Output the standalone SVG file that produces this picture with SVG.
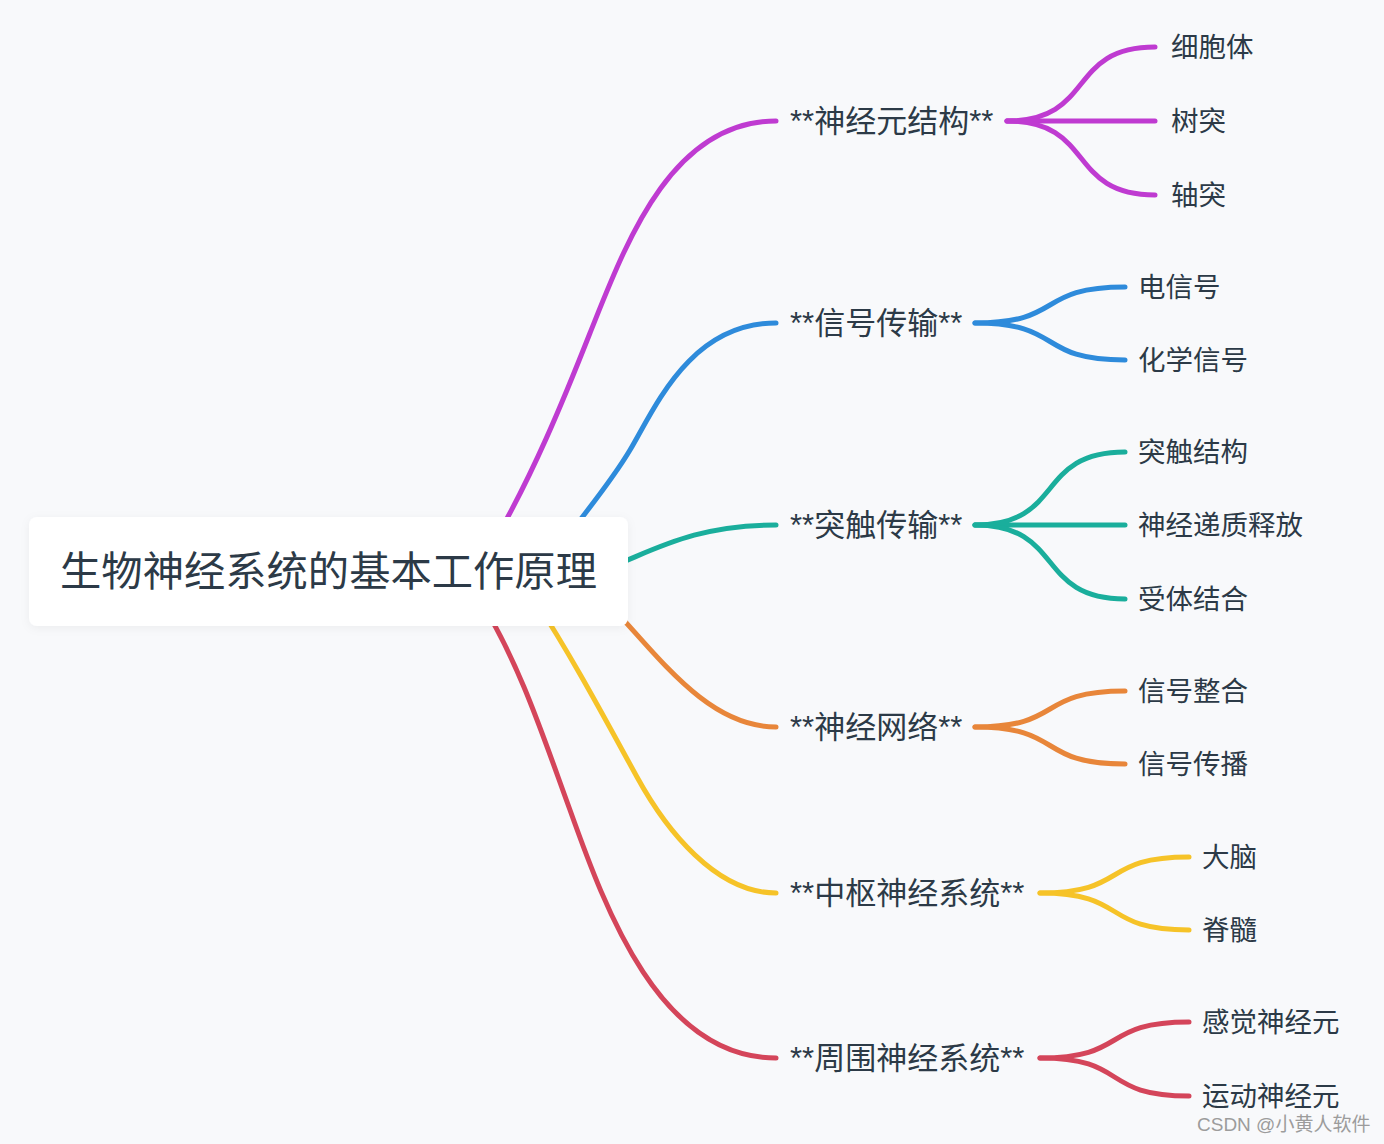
<svg xmlns="http://www.w3.org/2000/svg" width="1384" height="1144" viewBox="0 0 1384 1144">
<defs>
<filter id="sh" x="-10%" y="-30%" width="120%" height="160%">
<feDropShadow dx="0" dy="2" stdDeviation="5" flood-color="#000" flood-opacity="0.05"/>
</filter>
<style>
.ln{fill:none;stroke-width:5;stroke-linecap:round}
.p{stroke:#bf3bd1}.b{stroke:#2e8bdb}.t{stroke:#1aae9c}.o{stroke:#e8863a}.y{stroke:#f6c328}.r{stroke:#d4455a}
text{font-family:"Noto Sans CJK SC","Noto Sans",sans-serif;fill:#2c3a47}
.root{font-size:41.3px}
.br{font-size:31px;font-family:"Liberation Sans","Noto Sans CJK SC",sans-serif}
.ch{font-size:27.5px}
.wm{font-size:19px;fill:#9c9c9c;font-family:"Liberation Sans","Noto Sans CJK SC",sans-serif}
</style>
</defs>
<rect width="1384" height="1144" fill="#f8f9fb"/>
<g id="connectors">
<path class="ln p" d="M495,540 C533,474 562,404 590,333 C625,246 670,121 776,121"/>
<path class="ln b" d="M565,540 C587,510 611,482 630,450 C655,408 690,323 776,323"/>
<path class="ln t" d="M605,569 C650,553 690,525 776,525"/>
<path class="ln o" d="M605,600 C655,651 705,727 776,727"/>
<path class="ln y" d="M535,600 C572,657 604,717 637,777 C666,830 716,893 776,893"/>
<path class="ln r" d="M480,600 C520,664 544,739 570,810 C606,911 660,1058 776,1058"/>
<path class="ln p" d="M1007,121 C1095.8,121 1066.2,47 1155,47"/>
<path class="ln p" d="M1007,121 L1155,121"/>
<path class="ln p" d="M1007,121 C1095.8,121 1066.2,195 1155,195"/>
<path class="ln b" d="M975,323 C1065,323 1035,287 1125,287"/>
<path class="ln b" d="M975,323 C1065,323 1035,360 1125,360"/>
<path class="ln t" d="M975,525 C1065,525 1035,452 1125,452"/>
<path class="ln t" d="M975,525 L1125,525"/>
<path class="ln t" d="M975,525 C1065,525 1035,599 1125,599"/>
<path class="ln o" d="M975,727 C1065,727 1035,691 1125,691"/>
<path class="ln o" d="M975,727 C1065,727 1035,764 1125,764"/>
<path class="ln y" d="M1040,893 C1129.4,893 1099.6,857 1189,857"/>
<path class="ln y" d="M1040,893 C1129.4,893 1099.6,930 1189,930"/>
<path class="ln r" d="M1040,1058 C1129.4,1058 1099.6,1022 1189,1022"/>
<path class="ln r" d="M1040,1058 C1129.4,1058 1099.6,1096 1189,1096"/>
</g>
<g id="root">
<rect x="29" y="517" width="599" height="109" rx="8" fill="#ffffff" filter="url(#sh)"/>
<text class="root" x="328.5" y="586" text-anchor="middle">生物神经系统的基本工作原理</text>
</g>
<g id="b1"><text class="br" x="790" y="132">**神经元结构**</text></g>
<g id="b1c1"><text class="ch" x="1171" y="57">细胞体</text></g>
<g id="b1c2"><text class="ch" x="1171" y="131">树突</text></g>
<g id="b1c3"><text class="ch" x="1171" y="205">轴突</text></g>
<g id="b2"><text class="br" x="790" y="334">**信号传输**</text></g>
<g id="b2c1"><text class="ch" x="1138" y="297">电信号</text></g>
<g id="b2c2"><text class="ch" x="1138" y="370">化学信号</text></g>
<g id="b3"><text class="br" x="790" y="536">**突触传输**</text></g>
<g id="b3c1"><text class="ch" x="1138" y="462">突触结构</text></g>
<g id="b3c2"><text class="ch" x="1138" y="535">神经递质释放</text></g>
<g id="b3c3"><text class="ch" x="1138" y="609">受体结合</text></g>
<g id="b4"><text class="br" x="790" y="738">**神经网络**</text></g>
<g id="b4c1"><text class="ch" x="1138" y="701">信号整合</text></g>
<g id="b4c2"><text class="ch" x="1138" y="774">信号传播</text></g>
<g id="b5"><text class="br" x="790" y="904">**中枢神经系统**</text></g>
<g id="b5c1"><text class="ch" x="1202" y="867">大脑</text></g>
<g id="b5c2"><text class="ch" x="1202" y="940">脊髓</text></g>
<g id="b6"><text class="br" x="790" y="1069">**周围神经系统**</text></g>
<g id="b6c1"><text class="ch" x="1202" y="1032">感觉神经元</text></g>
<g id="b6c2"><text class="ch" x="1202" y="1106">运动神经元</text></g>
<text class="wm" x="1197" y="1131">CSDN @小黄人软件</text>
</svg>
